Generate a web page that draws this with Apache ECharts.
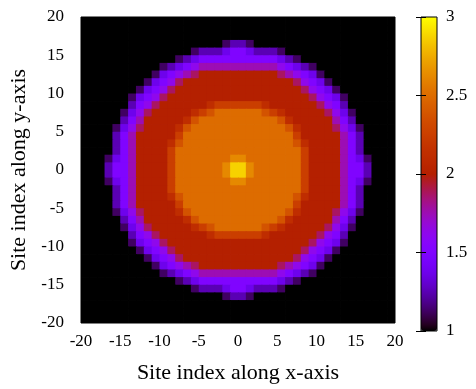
<!DOCTYPE html>
<html>
<head>
<meta charset="utf-8">
<script src="https://cdn.jsdelivr.net/npm/echarts@6/dist/echarts.min.js"></script>
<style>
html, body { margin: 0; padding: 0; background: #fff; }
#chartmain { width: 476px; height: 389px; }
</style>
</head>
<body>
<div id="chartmain"></div>
<script>
// colour level of every cell, one character per cell
var levelCodes = '0123456789abcdefg';
var levelValues = [1, 1.125, 1.25, 1.375, 1.5, 1.625, 1.75, 1.875, 2,
	2.125, 2.25, 2.375, 2.5, 2.625, 2.75, 2.875, 3];

// rows of cells, top row first (y = 19.5), each row from x = -19.5 to 19.5
var cellRows = [
	'0000000000000000000000000000000000000000',
	'0000000000000000000000000000000000000000',
	'0000000000000000000000000000000000000000',
	'0000000000000000001221000000000000000000',
	'0000000000000012223443222100000000000000',
	'0000000000001234444444444321000000000000',
	'0000000000123456666666666543210000000000',
	'0000000001345678888888888765431000000000',
	'0000000013457888888888888887543100000000',
	'0000000134578888888888888888754310000000',
	'0000001345788888888888888888875431000000',
	'00000024578888889aaaaaa98888887542000000',
	'000001357888889abccccccba988888753100000',
	'00000246888889bccccccccccb98888864200000',
	'0000135788889bccccccccccccb9888875310000',
	'000024688888acccccccccccccca888886420000',
	'000024688889bccccccccccccccb988886420000',
	'00002468888acccccccccccccccca88886420000',
	'00013468888acccccccddccccccca88886431000',
	'00024468888accccccdffdcccccca88886442000',
	'00024468888accccccdffdcccccca88886442000',
	'00013468888acccccccddccccccca88886431000',
	'00002468888acccccccccccccccca88886420000',
	'000024688889bccccccccccccccb988886420000',
	'000024688888acccccccccccccca888886420000',
	'0000135788889bccccccccccccb9888875310000',
	'00000246888889bccccccccccb98888864200000',
	'000001357888889abccccccba988888753100000',
	'00000024578888889aaaaaa98888887542000000',
	'0000001345788888888888888888875431000000',
	'0000000134578888888888888888754310000000',
	'0000000013457888888888888887543100000000',
	'0000000001345678888888888765431000000000',
	'0000000000123456666666666543210000000000',
	'0000000000001234444444444321000000000000',
	'0000000000000012223443222100000000000000',
	'0000000000000000001221000000000000000000',
	'0000000000000000000000000000000000000000',
	'0000000000000000000000000000000000000000',
	'0000000000000000000000000000000000000000'
];

var cells = [];
cellRows.forEach(function(row, r) {
	for (var c = 0; c < row.length; c++) {
		cells.push([ -19.5 + c, 19.5 - r, levelValues[levelCodes.indexOf(row[c])] ]);
	}
});

// gnuplot default pm3d palette (rgbformulae 7,5,15)
var palette = [];
for (var k = 0; k <= 64; k++) {
	var t = k / 64;
	var cr = Math.round(255 * Math.sqrt(t));
	var cg = Math.round(255 * t * t * t);
	var cb = Math.round(255 * Math.max(0, Math.sin(2 * Math.PI * t)));
	palette.push('rgb(' + cr + ',' + cg + ',' + cb + ')');
}

var font = "'Liberation Serif', 'DejaVu Serif', serif";

function renderCell(params, api) {
	var p0 = api.coord([ api.value(0) - 0.5, api.value(1) + 0.5 ]);
	var p1 = api.coord([ api.value(0) + 0.5, api.value(1) - 0.5 ]);
	return {
		type : 'rect',
		shape : {
			x : p0[0],
			y : p0[1],
			width : p1[0] - p0[0] + 0.8,
			height : p1[1] - p0[1] + 0.8
		},
		style : {
			fill : api.visual('color')
		}
	};
}

var option = {
	animation : false,
	textStyle : {
		fontFamily : font,
		color : '#000'
	},
	grid : [ {
		left : 81,
		top : 17,
		width : 314,
		height : 314,
		show : true,
		z : 5,
		borderColor : '#000',
		borderWidth : 1,
		backgroundColor : 'transparent'
	}, {
		left : 421,
		top : 17,
		width : 16,
		height : 314,
		show : true,
		z : 10,
		borderColor : '#000',
		borderWidth : 1,
		backgroundColor : 'transparent'
	} ],
	xAxis : [ {
		gridIndex : 0,
		type : 'value',
		min : -20,
		max : 20,
		interval : 5,
		name : 'Site index along x-axis',
		nameLocation : 'middle',
		nameGap : 39,
		nameTextStyle : {
			fontFamily : font,
			fontSize : 22,
			color : '#000'
		},
		axisLine : { show : false },
		axisTick : { show : false },
		splitLine : { show : false },
		axisLabel : {
			fontFamily : font,
			fontSize : 17,
			color : '#000',
			margin : 10
		}
	}, {
		gridIndex : 1,
		type : 'value',
		min : 0,
		max : 1,
		show : false
	} ],
	yAxis : [ {
		gridIndex : 0,
		type : 'value',
		min : -20,
		max : 20,
		interval : 5,
		name : 'Site index along y-axis',
		nameLocation : 'middle',
		nameGap : 46,
		nameTextStyle : {
			fontFamily : font,
			fontSize : 22,
			color : '#000'
		},
		axisLine : { show : false },
		axisTick : { show : false },
		splitLine : { show : false },
		axisLabel : {
			fontFamily : font,
			fontSize : 17,
			color : '#000',
			margin : 17
		}
	}, {
		gridIndex : 1,
		type : 'value',
		min : 1,
		max : 3,
		interval : 0.5,
		position : 'right',
		z : 10,
		axisLine : { show : false },
		axisTick : {
			show : true,
			inside : true,
			length : 5,
			lineStyle : { color : '#000' }
		},
		splitLine : { show : false },
		axisLabel : {
			fontFamily : font,
			fontSize : 17,
			color : '#000',
			margin : 9
		}
	}, {
		gridIndex : 1,
		type : 'value',
		min : 1,
		max : 3,
		interval : 0.5,
		position : 'left',
		z : 10,
		axisLine : { show : false },
		axisTick : {
			show : true,
			inside : true,
			length : 5,
			lineStyle : { color : '#000' }
		},
		splitLine : { show : false },
		axisLabel : { show : false }
	} ],
	visualMap : {
		type : 'continuous',
		min : 1,
		max : 3,
		dimension : 2,
		seriesIndex : 0,
		calculable : false,
		orient : 'vertical',
		left : 421,
		top : 17,
		itemWidth : 16,
		itemHeight : 314,
		padding : 0,
		inRange : {
			color : palette
		}
	},
	series : [ {
		type : 'custom',
		xAxisIndex : 0,
		yAxisIndex : 0,
		clip : true,
		encode : { x : 0, y : 1 },
		renderItem : renderCell,
		data : cells
	} ]
};

var myChart = echarts.init(document.getElementById('chartmain'));
myChart.setOption(option);
</script>
</body>
</html>
